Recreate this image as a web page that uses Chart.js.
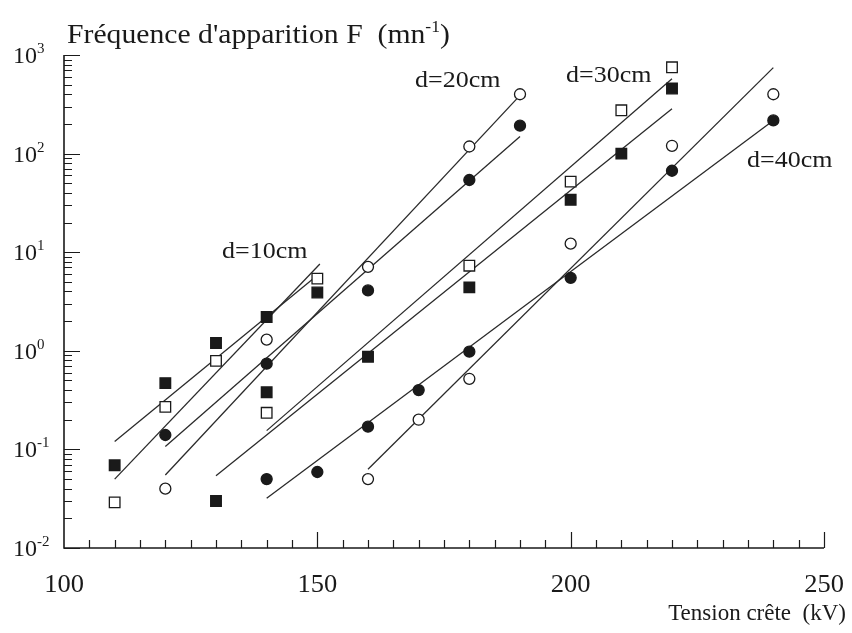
<!DOCTYPE html>
<html>
<head>
<meta charset="utf-8">
<script src="https://cdn.jsdelivr.net/npm/chart.js@4.4.1/dist/chart.umd.min.js"></script>
<style>
  html, body { margin: 0; padding: 0; background: #fff; }
</style>
</head>
<body>
<canvas id="main-chart" width="852" height="633"></canvas>
<script>
// ---- Data (tension kV -> frequence 1/mn) ----
// d=10cm, squares
const d10FilledX = [110, 120, 130, 140, 150];
const d10FilledY = [0.069, 0.47, 1.2, 2.2, 3.9];
const d10OpenX   = [110, 120, 130, 150];
const d10OpenY   = [0.029, 0.27, 0.79, 5.4];
// d=20cm, circles
const d20OpenX   = [120, 140, 160, 180, 190];
const d20OpenY   = [0.04, 1.3, 7.1, 118, 400];
const d20FilledX = [120, 140, 160, 180, 190];
const d20FilledY = [0.14, 0.74, 4.1, 54, 192];
// d=30cm, squares
const d30FilledX = [130, 140, 160, 180, 200, 210, 220];
const d30FilledY = [0.03, 0.38, 0.87, 4.4, 34, 100, 457];
const d30OpenX   = [140, 180, 200, 210, 220];
const d30OpenY   = [0.235, 7.3, 52, 275, 750];
// d=40cm, circles
const d40FilledX = [140, 150, 160, 170, 180, 200, 220, 240];
const d40FilledY = [0.05, 0.059, 0.17, 0.40, 0.98, 5.5, 67, 217];
const d40OpenX   = [160, 170, 180, 200, 220, 240];
const d40OpenY   = [0.05, 0.2, 0.52, 12.2, 120, 400];

// fitted lines (end points)
const fitD10FilledX = [110, 150.5], fitD10FilledY = [0.12, 6.1];
const fitD10OpenX   = [110, 150.5], fitD10OpenY   = [0.05, 7.6];
const fitD20FilledX = [120, 190],   fitD20FilledY = [0.107, 149];
const fitD20OpenX   = [120, 190],   fitD20OpenY   = [0.055, 390];
const fitD30FilledX = [130, 220],   fitD30FilledY = [0.054, 285];
const fitD30OpenX   = [140, 220],   fitD30OpenY   = [0.155, 575];
const fitD40FilledX = [140, 240],   fitD40FilledY = [0.032, 217];
const fitD40OpenX   = [160, 240],   fitD40OpenY   = [0.063, 745];

// axes
const xTickValues = [100, 150, 200, 250];
const xTickLabels = ['100', '150', '200', '250'];
const yTickValues = [1000, 100, 10, 1, 0.1, 0.01];
const yTickExps   = ['3', '2', '1', '0', '-1', '-2'];

// curve labels: text, kV, F at the text baseline
const curveLabels = [
  ['d=10cm', 131.2, 8.7],
  ['d=20cm', 169.3, 473],
  ['d=30cm', 199.1, 532],
  ['d=40cm', 234.8, 73],
];

const SERIF = "'Liberation Serif', 'Times New Roman', serif";
const INK = '#1a1a1a';

const pts = (xs, ys) => xs.map((x, i) => ({ x, y: ys[i] }));

function markers(xs, ys, style, filled) {
  return {
    data: pts(xs, ys),
    showLine: false,
    pointStyle: style,
    pointRadius: style === 'rect' ? 7.5 : 5.5,
    pointHoverRadius: style === 'rect' ? 7.5 : 5.5,
    pointBackgroundColor: filled ? INK : '#fff',
    pointBorderColor: INK,
    pointBorderWidth: 1.3,
    order: 1,
  };
}

function fitLine(xs, ys) {
  return {
    data: pts(xs, ys),
    showLine: true,
    borderColor: '#2a2a2a',
    borderWidth: 1.3,
    pointRadius: 0,
    order: 2,
  };
}

// text with optional superscript parts: [text, size, raise]; sx = horizontal stretch of the scan
function drawParts(ctx, parts, x, y, align, sx = 1) {
  ctx.save();
  let w = 0;
  parts.forEach(([t, s]) => { ctx.font = s + 'px ' + SERIF; w += ctx.measureText(t).width; });
  w *= sx;
  const x0 = align === 'right' ? x - w : align === 'center' ? x - w / 2 : x;
  ctx.translate(x0, y);
  ctx.scale(sx, 1);
  ctx.fillStyle = INK;
  ctx.textBaseline = 'alphabetic';
  ctx.textAlign = 'left';
  let cx = 0;
  parts.forEach(([t, s, r]) => {
    ctx.font = s + 'px ' + SERIF;
    ctx.fillText(t, cx, -(r || 0));
    cx += ctx.measureText(t).width;
  });
  ctx.restore();
}

const paperAxes = {
  id: 'paperAxes',
  afterDraw(chart) {
    const { ctx, chartArea: { left, right, top, bottom }, scales: { x, y } } = chart;
    ctx.save();
    ctx.strokeStyle = INK;
    ctx.lineWidth = 1.6;
    ctx.beginPath();
    ctx.moveTo(left, top);
    ctx.lineTo(left, bottom);
    ctx.lineTo(right, bottom);
    ctx.stroke();

    ctx.lineWidth = 1.2;
    ctx.beginPath();
    // x ticks every 5 kV, long ones on labelled values
    for (let v = 105; v <= 250; v += 5) {
      const px = Math.round(x.getPixelForValue(v)) + 0.5;
      const len = xTickValues.includes(v) ? 16 : 8;
      ctx.moveTo(px, bottom);
      ctx.lineTo(px, bottom - len);
    }
    // y log ticks
    yTickValues.forEach(dec => {
      for (let m = 1; m <= 9; m++) {
        const v = dec * m;
        if (m > 1 && dec === 1000) continue;
        const py = Math.round(y.getPixelForValue(v)) + 0.5;
        ctx.moveTo(left, py);
        ctx.lineTo(left + (m === 1 ? 16 : 8), py);
      }
    });
    ctx.stroke();
    ctx.restore();

    xTickValues.forEach((v, i) => {
      drawParts(ctx, [[xTickLabels[i], 25]], x.getPixelForValue(v), bottom + 44, 'center', 1.06);
    });
    yTickValues.forEach((v, i) => {
      drawParts(ctx, [['10', 24], [yTickExps[i], 15, 10]], 13, y.getPixelForValue(v) + 8, 'left');
    });

    drawParts(ctx, [['Fréquence d\'apparition F  (mn', 27], ['-1', 16, 11], [')', 27]], 67, 43, 'left', 1.1);
    drawParts(ctx, [['Tension crête  (kV)', 23]], 846, 620, 'right');

    curveLabels.forEach(([t, vx, vy]) => {
      drawParts(ctx, [[t, 23]], x.getPixelForValue(vx), y.getPixelForValue(vy), 'left', 1.13);
    });
  }
};

new Chart(document.getElementById('main-chart'), {
  type: 'scatter',
  data: {
    datasets: [
      fitLine(fitD10FilledX, fitD10FilledY),
      fitLine(fitD10OpenX, fitD10OpenY),
      fitLine(fitD20FilledX, fitD20FilledY),
      fitLine(fitD20OpenX, fitD20OpenY),
      fitLine(fitD30FilledX, fitD30FilledY),
      fitLine(fitD30OpenX, fitD30OpenY),
      fitLine(fitD40FilledX, fitD40FilledY),
      fitLine(fitD40OpenX, fitD40OpenY),
      markers(d10FilledX, d10FilledY, 'rect', true),
      markers(d10OpenX, d10OpenY, 'rect', false),
      markers(d20OpenX, d20OpenY, 'circle', false),
      markers(d20FilledX, d20FilledY, 'circle', true),
      markers(d30FilledX, d30FilledY, 'rect', true),
      markers(d30OpenX, d30OpenY, 'rect', false),
      markers(d40FilledX, d40FilledY, 'circle', true),
      markers(d40OpenX, d40OpenY, 'circle', false),
    ]
  },
  options: {
    responsive: false,
    animation: false,
    clip: false,
    layout: { padding: { left: 64, right: 28, top: 55, bottom: 85 } },
    plugins: { legend: { display: false }, tooltip: { enabled: false } },
    scales: {
      x: { type: 'linear', min: 100, max: 250, display: false },
      y: { type: 'logarithmic', min: 0.01, max: 1000, display: false }
    }
  },
  plugins: [paperAxes]
});
</script>
</body>
</html>
